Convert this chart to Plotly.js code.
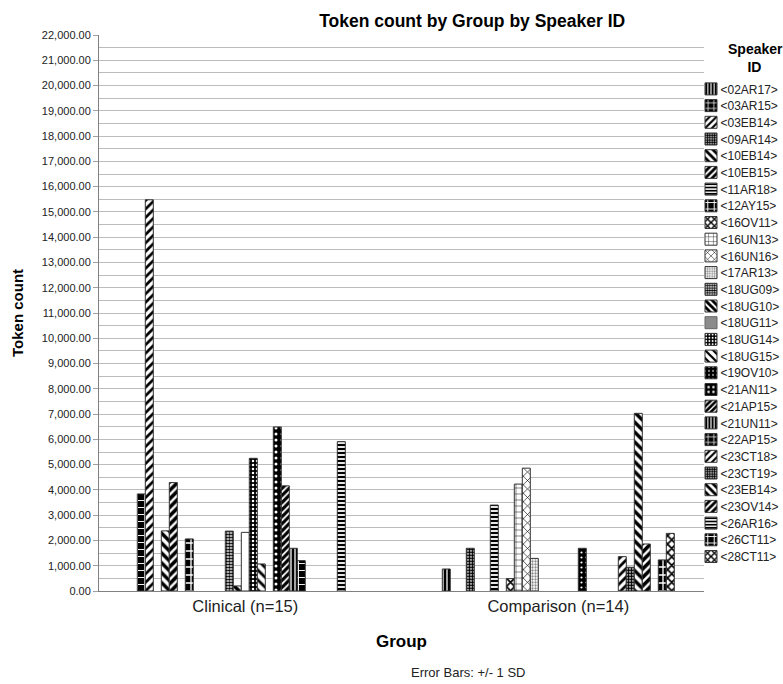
<!DOCTYPE html>
<html>
<head>
<meta charset="utf-8">
<script src="https://cdn.plot.ly/plotly-3.0.1.min.js"></script>
<style>html,body{margin:0;padding:0;background:#fff;}</style>
</head>
<body>
<div id="chart" style="width:783px;height:684px;"></div>
<script>
// ---- data ----
const speakers = ['02AR17','03AR15','03EB14','09AR14','10EB14','10EB15','11AR18','12AY15','16OV11','16UN13',
                  '16UN16','17AR13','18UG09','18UG10','18UG11','18UG14','18UG15','19OV10','21AN11','21AP15',
                  '21UN11','22AP15','23CT18','23CT19','23EB14','23OV14','26AR16','26CT11','28CT11'];
const groups = ['Clinical (n=15)', 'Comparison (n=14)'];
const clinicalTokens = [null, 3840, 15480, null, 2380, 4290, null, 2060, null, null,
                        null, null, 2370, 200, 2320, 5250, 1070, null, 6490, 4160,
                        1690, 1200, null, null, null, null, 5910, null, null];
const comparisonTokens = [870, null, null, 1690, null, null, 3400, null, 490, 4230,
                          4860, 1290, null, null, null, null, null, 1690, null, null,
                          null, null, 1360, 940, 7030, 1860, null, 1230, 2280];
const yTicks = {min: 0, max: 22000, step: 1000, minorStep: 500};

// ---- styles (pattern cycle of 20, as in the source chart) ----
const patternCycle = [
  {shape:'|', fg:'#000', bg:'#fff', solidity:0.68, size:4},
  {shape:'+', fg:'#fff', bg:'#000', solidity:0.25, size:7},
  {shape:'/', fg:'#000', bg:'#fff', solidity:0.45, size:6},
  {shape:'.', fg:'#000', bg:'#fff', solidity:0.7, size:3},
  {shape:'\\', fg:'#000', bg:'#fff', solidity:0.5, size:7},
  {shape:'/', fg:'#000', bg:'#fff', solidity:0.6, size:6},
  {shape:'-', fg:'#000', bg:'#fff', solidity:0.55, size:4},
  {shape:'+', fg:'#fff', bg:'#000', solidity:0.3, size:8},
  {shape:'x', fg:'#000', bg:'#fff', solidity:0.5, size:6},
  {shape:'+', fg:'#000', bg:'#fff', solidity:0.15, size:6},
  {shape:'x', fg:'#000', bg:'#fff', solidity:0.2, size:6},
  {shape:'.', fg:'#888', bg:'#fff', solidity:0.45, size:3},
  {shape:'.', fg:'#000', bg:'#fff', solidity:0.65, size:3},
  {shape:'\\', fg:'#000', bg:'#fff', solidity:0.6, size:6},
  {shape:'', fg:'#000', bg:'#fff', solidity:0.3, size:6},
  {shape:'.', fg:'#fff', bg:'#000', solidity:0.3, size:4},
  {shape:'\\', fg:'#000', bg:'#fff', solidity:0.4, size:7},
  {shape:'.', fg:'#fff', bg:'#000', solidity:0.15, size:5},
  {shape:'.', fg:'#fff', bg:'#000', solidity:0.2, size:6},
  {shape:'/', fg:'#000', bg:'#fff', solidity:0.65, size:5}
];
const FONT = 'Liberation Sans, Arial, sans-serif';
const GRID = '#bcbcbc';

const traces = [];
speakers.forEach((sp, i) => {
  const p = patternCycle[i % patternCycle.length];
  const isPlain = (sp === '18UG11');
  const marker = {
    color: '#fff',
    line: {color: '#333', width: 1},
    pattern: isPlain ? {shape: ''} : {shape: p.shape, fgcolor: p.fg, bgcolor: p.bg, solidity: p.solidity, size: p.size, fillmode: 'replace'}
  };
  traces.push({
    type: 'bar',
    name: '&lt;' + sp + '&gt;',
    x: groups,
    y: [clinicalTokens[i], comparisonTokens[i]],
    offsetgroup: sp,
    legendgroup: sp,
    showlegend: !isPlain,
    marker: marker,
    hoverinfo: 'name+y'
  });
  if (isPlain) {
    // legend swatch for this speaker is a solid grey square in the source
    traces.push({
      type: 'bar', name: '&lt;' + sp + '&gt;', x: groups, y: [null, null],
      offsetgroup: sp, legendgroup: sp, showlegend: true,
      marker: {color: '#8c8c8c', line: {color: '#666', width: 1}}
    });
  }
});

const nb = n => '&nbsp;'.repeat(n);
const layout = {
  width: 783, height: 684,
  margin: {l: 99, r: 79, t: 35, b: 93, autoexpand: false},
  paper_bgcolor: '#fff', plot_bgcolor: '#fff',
  font: {family: FONT, color: '#000'},
  barmode: 'group', bargap: 0.2588, bargroupgap: 0,
  title: {text: '<b>Token count by Group by Speaker ID</b>', font: {size: 17.5, family: FONT, color: '#000'},
          xref: 'container', x: 0.603, xanchor: 'center', yref: 'container', y: 0.969, yanchor: 'middle'},
  xaxis: {type: 'category', range: [-0.4674, 1.4655], showline: true, linecolor: '#808080', linewidth: 1,
          ticks: '', showgrid: false, tickfont: {size: 16.5, color: '#222'},
          title: {text: '<b>Group</b>', font: {size: 17, color: '#000'}, standoff: 21}},
  yaxis: {range: [yTicks.min, yTicks.max], tick0: 0, dtick: yTicks.step, tickformat: ',.2f',
          ticks: 'outside', ticklen: 5, tickcolor: '#a0a0a0', showline: true, linecolor: '#808080', linewidth: 1,
          showgrid: true, gridcolor: GRID, gridwidth: 1, zeroline: false,
          minor: {dtick: yTicks.minorStep, showgrid: true, gridcolor: GRID, gridwidth: 1, ticks: ''},
          tickfont: {size: 11, color: '#222'},
          title: {text: '<b>Token count</b>', font: {size: 15, color: '#000'}, standoff: 14}},
  legend: {x: (691 - 99) / 605, xanchor: 'left', y: 1 - 1 / 556, yanchor: 'top', bgcolor: 'rgba(0,0,0,0)', borderwidth: 0,
           font: {size: 12, color: '#222'}, traceorder: 'normal', maxheight: 2000,
           title: {text: '<b>' + nb(9) + 'Speaker<br>' + nb(14) + 'ID</b>', side: 'top', font: {size: 14, color: '#000'}}},
  annotations: [{text: 'Error Bars: +/- 1 SD', xref: 'paper', yref: 'paper', x: (468 - 99) / 605, y: -(672 - 591) / 556,
                 xanchor: 'center', yanchor: 'middle', showarrow: false, font: {size: 13, color: '#222'}}]
};

Plotly.newPlot('chart', traces, layout, {displayModeBar: false}).then(gd => {
  // tighten legend rows to the source chart's spacing and pull labels next to swatches
  const items = gd.querySelectorAll('.legend .traces');
  let y0 = null;
  items.forEach((el, i) => {
    const m = /translate\(\s*([-\d.e]+)[ ,]+([-\d.e]+)\s*\)/.exec(el.getAttribute('transform') || '');
    if (!m) return;
    const x = parseFloat(m[1]), y = parseFloat(m[2]);
    if (y0 === null) y0 = y + 2;
    el.setAttribute('transform', 'translate(' + x + ',' + (y0 + i * 16.7) + ')');
    const t = el.querySelector('text.legendtext');
    if (t) t.setAttribute('x', parseFloat(t.getAttribute('x') || 40) - 10.5);
  });
  const sb = gd.querySelector('.legend .scrollbar');
  if (sb) sb.style.display = 'none';
});
</script>
</body>
</html>
